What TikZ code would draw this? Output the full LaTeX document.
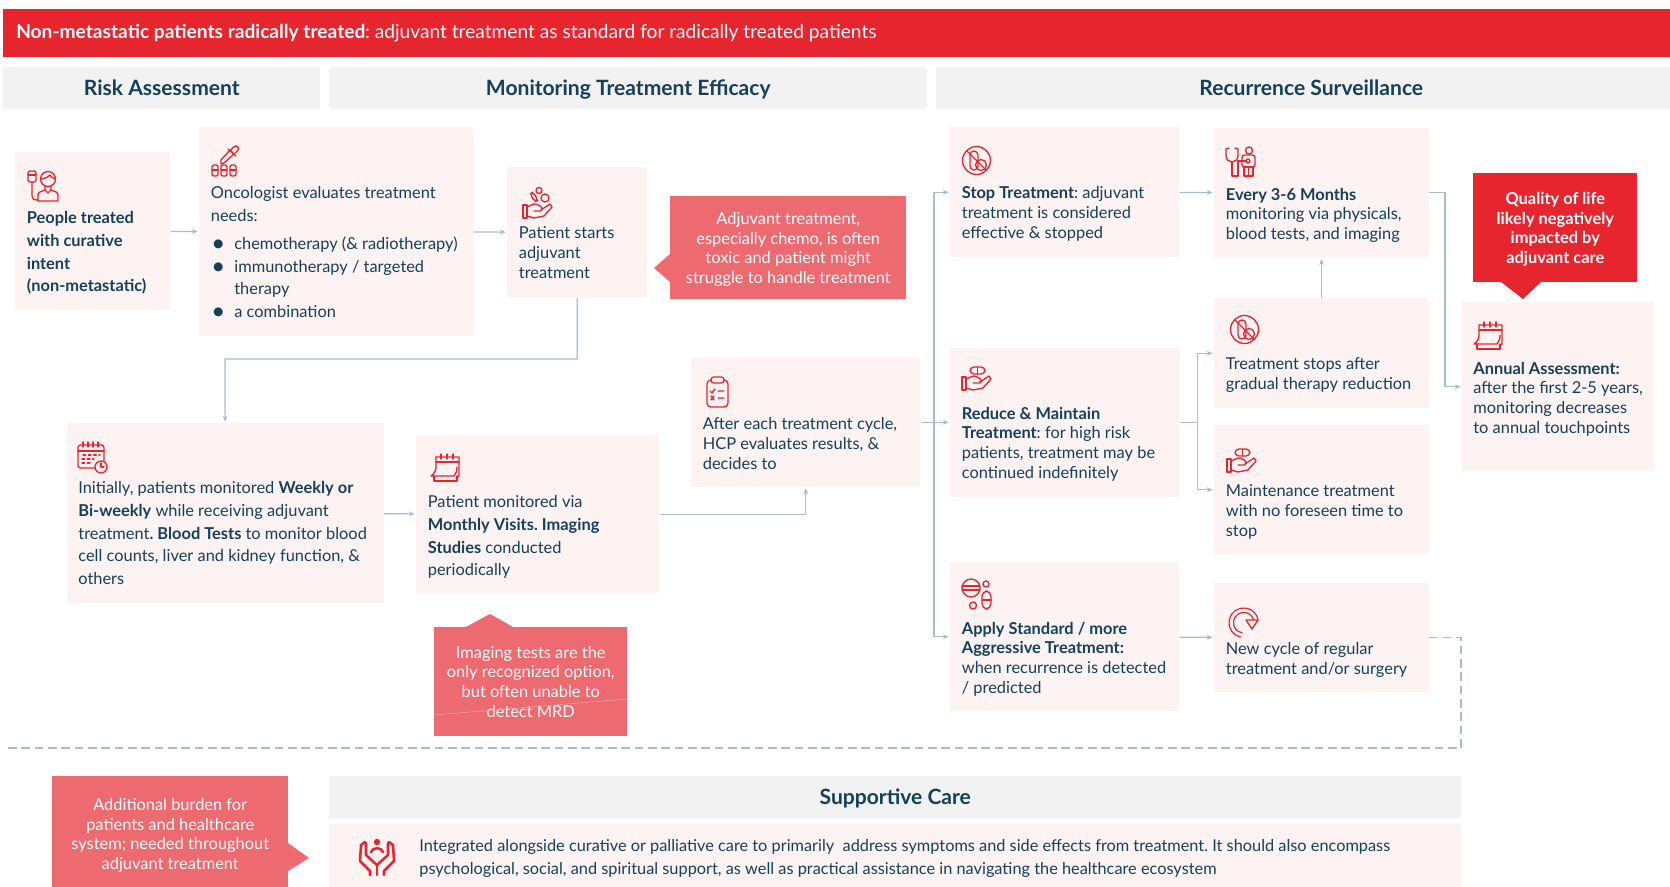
\documentclass[tikz,border=0pt]{standalone}
\usepackage{fontspec}
\setmainfont{Lato}
\usepackage{xcolor}
\usetikzlibrary{arrows.meta,positioning}

\definecolor{brandred}{HTML}{E6252E}
\definecolor{softred}{HTML}{EC6A70}
\definecolor{cardpink}{HTML}{FDF3F3}
\definecolor{headgrey}{HTML}{F2F2F2}
\definecolor{navy}{HTML}{14405C}
\definecolor{linkblue}{HTML}{A6BDCC}

\newcommand{\bigdot}{\makebox[17.6pt][l]{\hspace{0.4pt}\raisebox{-1.8pt}{\fontsize{18}{17}\selectfont\textbullet}}}
\newcommand{\toppad}[1]{\rule{0pt}{#1}}

\tikzset{
  card/.style 2 args={anchor=north west,fill=cardpink,inner sep=0pt,minimum width=#1*0.75pt,minimum height=#2*0.75pt},
  band/.style 2 args={anchor=north west,fill=headgrey,inner sep=0pt,minimum width=#1*0.75pt,minimum height=#2*0.75pt,
    text=navy,text height=11.5pt,text depth=0pt,font=\fontsize{15.8}{18}\selectfont\bfseries},
  callout/.style 2 args={anchor=north west,fill=softred,inner sep=0pt,minimum width=#1*0.75pt,minimum height=#2*0.75pt,
    text=white,align=center,font=\fontsize{12.3}{14.7}\selectfont},
  tight/.style={anchor=north west,inner sep=0pt,align=left,text=navy,xshift=-0.3pt,yshift=-1.2pt,font=\fontsize{12.3}{14.9}\selectfont},
  loose/.style={anchor=north west,inner sep=0pt,align=left,text=navy,xshift=-0.3pt,yshift=-1.1pt,font=\fontsize{12.3}{17}\selectfont},
  link/.style={draw=linkblue,line width=0.9pt,shorten >=1pt,>={Stealth[length=4.5pt,width=3.6pt]}},
  icon/.style={draw=brandred,line width=1pt,line join=round,line cap=round},
  pics/handbase/.style={code={
    \draw[icon] (0,3) rectangle (4,16);
    \draw[icon] (4,5) -- (11,2) .. controls (14,2) and (18,4) .. (19,6) -- (18,9) -- (11,9);
    \draw[icon] (18,8) -- (27,2) -- (29,5) -- (21,14) -- (11,16) -- (4,14);
  }},
  pics/pillhand/.style={code={
    \draw[icon] (16,3.5) circle (3);
    \draw[icon] (22,11) circle (4);
    \draw[icon,rounded corners=2.5pt] (7,7) -- (10,5) -- (15,13) -- (12,15) -- cycle;
    \pic at (0,15) {handbase};
  }},
  pics/capsulehand/.style={code={
    \draw[icon,rounded corners=3pt] (8,0) rectangle (23,7);
    \draw[icon] (15.5,0) -- (15.5,7);
    \pic at (0,7) {handbase};
  }},
  pics/ivperson/.style={code={
    \draw[icon,rounded corners=1.5pt] (0,1) rectangle (8,12);
    \draw[icon] (0,5) -- (8,5);
    \draw[icon] (4,12) -- (4,26) .. controls (4,29) and (6,30) .. (10,30);
    \draw[icon] (20,9) circle (7.5);
    \draw[icon] (13,9) .. controls (16,9) and (20,7) .. (22,5) .. controls (23,7) and (25,8) .. (27,9);
    \draw[icon] (17,16) -- (17,20) -- (20,23) -- (23,20) -- (23,16);
    \draw[icon] (10,31) -- (10,25) .. controls (10,22) and (14,21) .. (17,20);
    \draw[icon] (23,20) .. controls (26,21) and (30,22) .. (30,25) -- (30,31) -- (10,31);
  }},
  pics/dropper/.style={code={
    \draw[icon] (9,15) -- (18,5) -- (22,9) -- (12,18) -- (9,19) -- cycle;
    \draw[icon] (16,4) -- (24,11);
    \draw[icon,rounded corners=2pt] (19,5) -- (22,1) -- (26,1) -- (27,5) -- (23,8);
    \draw[icon,rounded corners=1.5pt] (0,20) rectangle (6,31);
    \draw[icon,rounded corners=1.5pt] (9,20) rectangle (15,31);
    \draw[icon,rounded corners=1.5pt] (18,20) rectangle (24,31);
    \draw[icon] (0,25) -- (6,25) (9,25) -- (15,25) (18,25) -- (24,25);
  }},
  pics/calclock/.style={code={
    \draw[icon,rounded corners=2pt] (0,3) rectangle (26,26);
    \draw[icon] (0,9) -- (26,9);
    \draw[icon] (5,0) -- (5,5) (10,0) -- (10,5) (15,0) -- (15,5) (20,0) -- (20,5);
    \draw[icon,dash pattern=on 2pt off 2pt] (5,13) -- (22,13) (4,17) -- (16,17) (4,21) -- (14,21);
    \draw[icon,fill=cardpink] (23,25) circle (6);
    \draw[icon] (23,21) -- (23,25) -- (26,25);
  }},
  pics/tearcal/.style={code={
    \draw[icon] (5,3) -- (28,3) -- (28,22) -- (25,24);
    \draw[icon] (5,3) -- (5,13) .. controls (5,17) and (3,20) .. (0,22) -- (23,22) .. controls (25,20) and (26,17) .. (26,13);
    \draw[icon] (3,22) -- (3,27) -- (26,27) -- (26,22);
    \draw[icon] (5,8) -- (28,8);
    \draw[icon] (10,0) -- (10,5) (16,0) -- (16,5) (22,0) -- (22,5);
  }},
  pics/clipboard/.style={code={
    \draw[icon,rounded corners=3pt] (0,3) rectangle (21,30);
    \draw[icon,fill=cardpink,rounded corners=2pt] (4,0) rectangle (17,6);
    \draw[icon] (3,14) -- (5,16) -- (8,12) (11,14) -- (17,14);
    \draw[icon] (4,19) -- (7,23) (7,19) -- (4,23) (11,21) -- (17,21);
  }},
  pics/nopill/.style={code={
    \draw[icon] (14.5,15.5) circle (14);
    \draw[icon,rounded corners=3pt] (8,6) rectangle (16,25);
    \draw[icon] (19,20) circle (5.5);
    \draw[icon] (5,6) -- (24,25);
  }},
  pics/stetho/.style={code={
    \draw[icon] (3,1) -- (0,2) -- (0,8) .. controls (0,13) and (3,15) .. (6,15) .. controls (9,15) and (12,13) .. (12,8) -- (12,2) -- (9,1);
    \draw[icon] (6,15) -- (6,29) -- (12,29) -- (12,14) -- (20,14);
    \draw[icon] (23,3.5) circle (3.5);
    \draw[icon,rounded corners=2pt] (16,8) rectangle (29,20);
    \draw[icon] (22,14) circle (2);
    \draw[icon] (18,20) rectangle (27,29);
    \draw[icon] (22.5,20) -- (22.5,29);
  }},
  pics/pillmix/.style={code={
    \draw[icon] (9,9) circle (9);
    \draw[icon] (0,7) -- (18,7) (0,11) -- (18,11);
    \draw[icon] (24,5) circle (3);
    \draw[icon] (11,26.5) circle (3.5);
    \draw[icon,rounded corners=4pt] (20,12) rectangle (29,30);
    \draw[icon] (20,21) -- (29,21);
  }},
  pics/restart/.style={code={
    \draw[icon,line cap=butt,double=cardpink,double distance=2.2pt] (12.5,28) arc[start angle=100,end angle=350,radius=12.5];
    \draw[icon,fill=cardpink] (17,13) -- (29,13) -- (23,22) -- cycle;
  }},
  pics/carehands/.style={code={
    \fill[brandred] (18,3) circle (3.2);
    \draw[icon,line width=1.9pt] (12,13) .. controls (13,8) and (23,8) .. (24,13);
    \draw[icon,line width=1.9pt] (6,3) -- (2,6) -- (1,22) -- (11,32) -- (11,36);
    \draw[icon,line width=1.9pt] (7,4) -- (7,16) -- (18,26) -- (29,16) -- (29,4);
    \draw[icon,line width=1.9pt] (30,3) -- (34,6) -- (35,22) -- (25,32) -- (25,36);
    \draw[icon,line width=1.9pt] (18,26) -- (18,36);
  }},
}

\begin{document}
\frenchspacing
\begin{tikzpicture}[x=0.75pt,y=-0.75pt]
  \useasboundingbox (0,0) rectangle (1670,887);
  \fill[white] (0,0) rectangle (1670,887);

  % top bar and column heads
  \node[anchor=north west,fill=brandred,inner sep=0pt,minimum width=1667*0.75pt,minimum height=48*0.75pt] (bar) at (3,8.5) {};
  \node[anchor=west,text=white,inner sep=0pt,font=\fontsize{14.35}{17}\selectfont] (bar_txt) at (16,33.5)
    {\textbf{Non-metastatic patients radically treated}: adjuvant treatment as standard for radically treated patients};
  \node[band={317}{42}] (h_risk) at (3,67) {Risk Assessment};
  \node[band={598}{42}] (h_monitor) at (329,67) {Monitoring Treatment Efficacy};
  \node[band={734}{42}] (h_recur) at (936,67) {\hspace*{12pt}Recurrence Surveillance};
  \node[band={1132}{42}] (h_care) at (329,776) {Supportive Care};

  % cards
  \node[card={155}{158}] (b_people) at (15,152) {};
  \node[card={274}{209}] (b_eval) at (199,127) {};
  \node[card={140}{130}] (b_start) at (507,167) {};
  \node[card={317}{180}] (b_weekly) at (66.5,423) {};
  \node[card={243}{158}] (b_monthly) at (416,435) {};
  \node[card={229}{129}] (b_after) at (691,357.5) {};
  \node[card={229}{130}] (b_stop) at (950,127) {};
  \node[card={214.5}{129}] (b_every) at (1214,128) {};
  \node[card={214.5}{110}] (b_gradual) at (1214,298) {};
  \node[card={214.5}{129}] (b_maint) at (1214,425) {};
  \node[card={229}{149}] (b_reduce) at (950,347.5) {};
  \node[card={229}{149}] (b_apply) at (950,562) {};
  \node[card={214.5}{109}] (b_cycle) at (1214,583) {};
  \node[card={192}{169}] (b_annual) at (1462,302) {};
  \node[card={1132}{63}] (b_care) at (329,824) {};

  % callouts
  \fill[softred] (670,254) -- (654,268) -- (670,282) -- cycle;
  \node[callout={236}{103}] (c_toxic) at (670,196)
    {\toppad{11.5pt}Adjuvant treatment,\\especially chemo, is often\\toxic and patient might\\struggle to handle treatment};
  \fill[softred] (466,627) -- (490,614) -- (513,627) -- cycle;
  \node[callout={193}{109}] (c_imaging) at (434,627)
    {Imaging tests are the\\only recognized option,\\but often unable to\\detect MRD};
  \draw[softred!60!white,line width=0.4pt] (434,715) -- (627,699);
  \fill[softred] (288,843) -- (309,858) -- (288,871) -- cycle;
  \node[callout={236}{111}] (c_burden) at (52,776)
    {\toppad{14.5pt}Additional burden for\\patients and healthcare\\system; needed throughout\\adjuvant treatment};
  \fill[brandred] (1501,282) -- (1523,299) -- (1541,282) -- cycle;
  \node[callout={164}{109},fill=brandred,font=\fontsize{12.3}{14.7}\selectfont\bfseries] (c_quality) at (1473,173)
    {\toppad{11.5pt}Quality of life\\likely negatively\\impacted by\\adjuvant care};

  % card texts
  \node[loose,font=\fontsize{12.3}{17}\selectfont\bfseries] (t_people) at (27,210)
    {People treated\\with curative\\intent\\(non-metastatic)};
  \node[loose] (t_eval) at (211,185)
    {Oncologist evaluates treatment\\needs:\\[4pt]
     \bigdot chemotherapy (\& radiotherapy)\\
     \bigdot immunotherapy / targeted\\
     \hspace*{17.6pt}therapy\\
     \bigdot a combination};
  \node[tight] (t_start) at (519,225) {Patient starts\\adjuvant\\treatment};
  \node[loose] (t_weekly) at (78.5,480)
    {Initially, patients monitored \textbf{Weekly or}\\\textbf{Bi-weekly} while receiving adjuvant\\
     treatment\textbf{. Blood Tests} to monitor blood\\cell counts, liver and kidney function, \&\\others};
  \node[loose] (t_monthly) at (428,494)
    {Patient monitored via\\\textbf{Monthly Visits. Imaging}\\\textbf{Studies} conducted\\periodically};
  \node[tight] (t_after) at (703,416) {After each treatment cycle,\\HCP evaluates results, \&\\decides to};
  \node[tight] (t_stop) at (962,185) {\textbf{Stop Treatment}: adjuvant\\treatment is considered\\effective \& stopped};
  \node[tight] (t_every) at (1226,186) {\textbf{Every 3-6 Months}\\monitoring via physicals,\\blood tests, and imaging};
  \node[tight] (t_gradual) at (1226,356) {Treatment stops after\\gradual therapy reduction};
  \node[tight] (t_maint) at (1226,483) {Maintenance treatment\\with no foreseen time to\\stop};
  \node[tight] (t_reduce) at (962,405)
    {\textbf{Reduce \& Maintain}\\\textbf{Treatment}: for high risk\\patients, treatment may be\\continued indefinitely};
  \node[tight] (t_apply) at (962,620)
    {\textbf{Apply Standard / more}\\\textbf{Aggressive Treatment:}\\when recurrence is detected\\/ predicted};
  \node[tight] (t_cycle) at (1226,641) {New cycle of regular\\treatment and/or surgery};
  \node[tight] (t_annual) at (1473.5,360)
    {\textbf{Annual Assessment:}\\after the first 2-5 years,\\monitoring decreases\\to annual touchpoints};
  \node[loose,font=\fontsize{12.24}{17}\selectfont] (t_care) at (419.5,838)
    {Integrated alongside curative or palliative care to primarily\ \ address symptoms and side effects from treatment. It should also encompass\\
     psychological, social, and spiritual support, as well as practical assistance in navigating the healthcare ecosystem};

  % icons
  \pic at (28,170) {ivperson};
  \pic at (212,145) {dropper};
  \pic at (523,187) {pillhand};
  \pic at (78,442) {calclock};
  \pic at (431,454) {tearcal};
  \pic at (707,377) {clipboard};
  \pic at (962,145) {nopill};
  \pic at (1226,147) {stetho};
  \pic at (1230,314) {nopill};
  \pic at (962,367) {capsulehand};
  \pic at (1227,449) {capsulehand};
  \pic at (962,579) {pillmix};
  \pic at (1229,607) {restart};
  \pic at (1474,322) {tearcal};
  \pic at (359,839) {carehands};

  % connectors
  \coordinate (turn) at (225,359);
  \coordinate[left=12pt of b_reduce.west] (spine);
  \coordinate[right=13.5pt of b_reduce.east] (fork);
  \coordinate[left=12.75pt of b_annual.west] (drop);
  \coordinate (dash_corner) at (1461,748);
  \coordinate (dash_end) at (4,748);
  \path[->,link]
    (b_people) edge (b_eval)
    (b_eval) edge (b_start)
    (b_weekly) edge (b_monthly)
    (b_stop) edge (b_every)
    (b_gradual) edge (b_every)
    (b_after) edge (b_reduce)
    (b_apply) edge (b_cycle);
  \draw[->,link] (b_start) |- (turn) -- (b_weekly);
  \draw[->,link] (b_monthly) -| (b_after);
  \draw[->,link] (spine) |- (b_stop);
  \draw[->,link] (spine) |- (b_apply);
  \draw[->,link] (b_reduce.east) -- (fork) |- (b_gradual);
  \draw[->,link] (fork) |- (b_maint);
  \draw[->,link] (b_every.east) -| (drop) -- (b_annual.west);
  \draw[link,dash pattern=on 6.5pt off 3.5pt] (b_cycle.east) -| (dash_corner) -- (dash_end);
\end{tikzpicture}
\end{document}
